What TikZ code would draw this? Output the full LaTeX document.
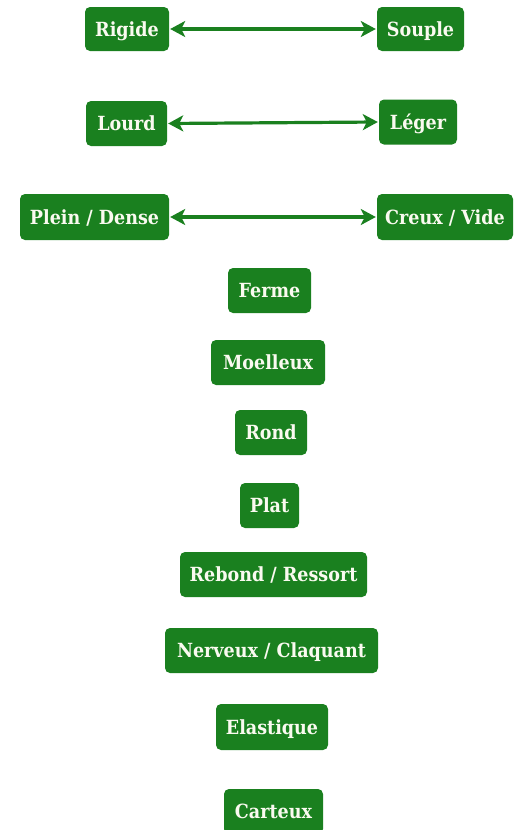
\documentclass[tikz,border=0pt]{standalone}
\usepackage{fontspec}
\setmainfont{DejaVu Serif Condensed}
\usetikzlibrary{arrows.meta}
\definecolor{boxgreen}{RGB}{26,128,31}
\definecolor{txt}{RGB}{250,250,240}
\begin{document}
\begin{tikzpicture}[x=1pt,y=-1pt,
  tag/.style={fill=boxgreen,rounded corners=5pt,inner sep=0pt,text=txt,
    font=\fontsize{19.5}{22}\selectfont\bfseries,anchor=center,
    text height=14pt,text depth=0pt},
  link/.style={draw=boxgreen,line width=3.2pt,{Stealth[length=15pt,width=16pt,inset=4pt]}-{Stealth[length=15pt,width=16pt,inset=4pt]}}]
\useasboundingbox (0,0) rectangle (514,830);
\node[tag,minimum width=84pt,minimum height=44pt] (rig) at (127,29) {Rigide};
\node[tag,minimum width=87pt,minimum height=44pt] (sou) at (420.5,29) {Souple};
\node[tag,minimum width=81pt,minimum height=45pt] (lou) at (126.5,123.5) {Lourd};
\node[tag,minimum width=78pt,minimum height=45pt] (leg) at (418,122) {Léger};
\node[tag,minimum width=149pt,minimum height=46pt] (ple) at (94.5,217) {Plein / Dense};
\node[tag,minimum width=136pt,minimum height=46pt] (cre) at (445,217) {Creux / Vide};
\node[tag,minimum width=83pt,minimum height=45pt] (fer) at (269.5,290.5) {Ferme};
\node[tag,minimum width=114pt,minimum height=45pt] (moe) at (268,362.5) {Moelleux};
\node[tag,minimum width=72pt,minimum height=45pt] (ron) at (271,432.5) {Rond};
\node[tag,minimum width=59pt,minimum height=45pt] (pla) at (269.5,505.5) {Plat};
\node[tag,minimum width=187pt,minimum height=45pt] (reb) at (273.5,574.5) {Rebond / Ressort};
\node[tag,minimum width=213pt,minimum height=45pt] (ner) at (271.5,650.5) {Nerveux / Claquant};
\node[tag,minimum width=112pt,minimum height=46pt] (ela) at (272,727) {Elastique};
\node[tag,minimum width=99pt,minimum height=45pt] (car) at (273.5,811.5) {Carteux};
\draw[link] ([xshift=1pt]rig.east) -- ([xshift=-1pt]sou.west);
\draw[link] ([xshift=1pt]lou.east) -- ([xshift=-1pt]leg.west);
\draw[link] ([xshift=1pt]ple.east) -- ([xshift=-1pt]cre.west);
\end{tikzpicture}
\end{document}
